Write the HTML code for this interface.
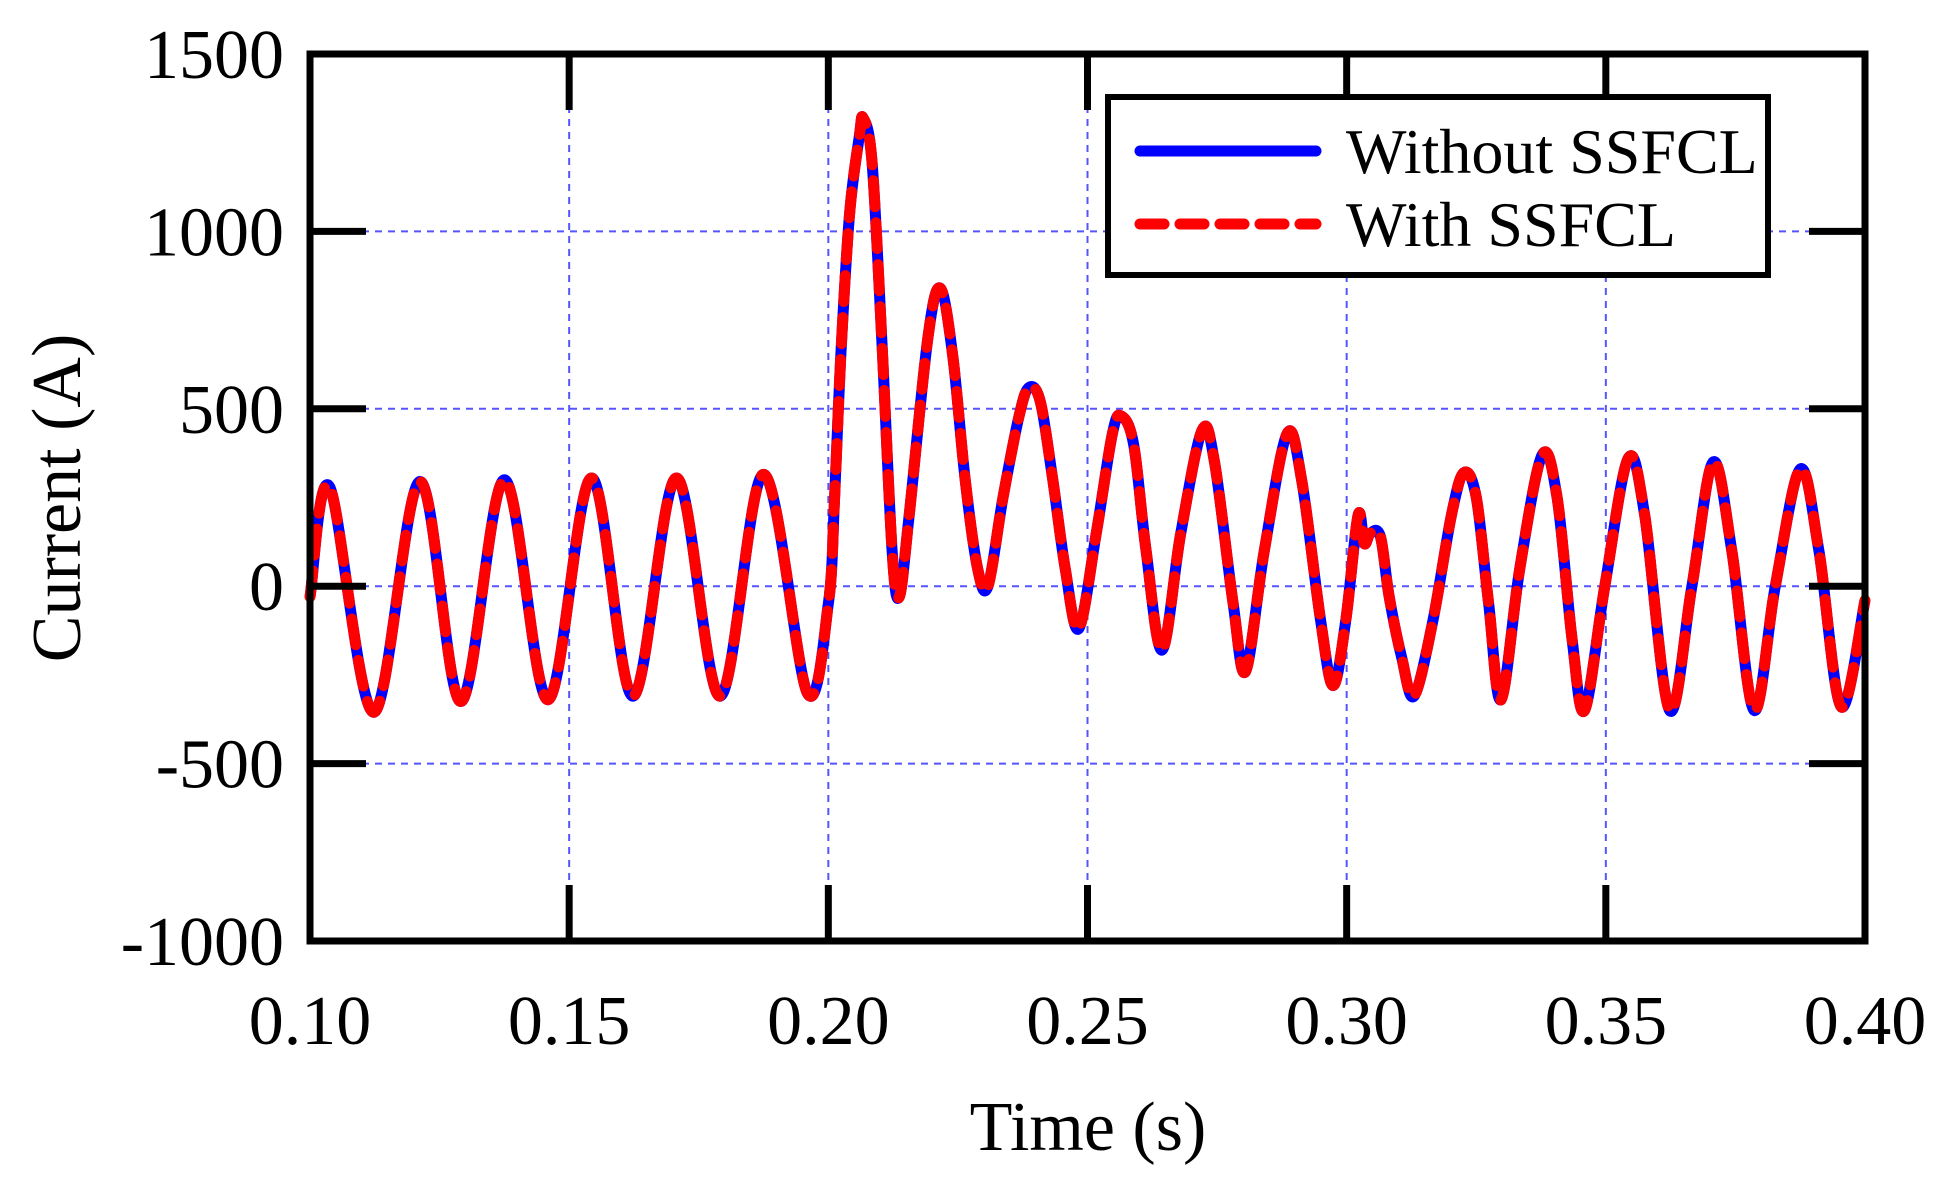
<!DOCTYPE html>
<html><head><meta charset="utf-8"><style>
html,body{margin:0;padding:0;background:#fff;}
svg{display:block;font-family:"Liberation Serif",serif;}
</style></head><body>
<svg id="chart" width="1954" height="1188" viewBox="0 0 1954 1188" xmlns="http://www.w3.org/2000/svg">
<rect x="0" y="0" width="1954" height="1188" fill="#fff"/>
<g id="grid"></g>
<g id="series"></g>
<g id="axes"></g>
<g id="legend">
 <rect x="1108" y="97" width="660" height="178" fill="#fff" stroke="#000" stroke-width="6"/>
 <line x1="1140" y1="151" x2="1316" y2="151" stroke="#0000ff" stroke-width="11" stroke-linecap="round"/>
 <text x="1346" y="173" font-size="64">Without SSFCL</text>
 <line x1="1140" y1="224" x2="1316" y2="224" stroke="#ff0000" stroke-width="11" stroke-linecap="round" stroke-dasharray="24 16"/>
 <text x="1346" y="246" font-size="64">With SSFCL</text>
</g>
<text x="1088" y="1150" font-size="70" text-anchor="middle">Time (s)</text>
<text x="0" y="0" font-size="70" text-anchor="middle" transform="translate(80,498) rotate(-90)">Current (A)</text>
</svg>
<script>
const xTicks = [0.10, 0.15, 0.20, 0.25, 0.30, 0.35, 0.40];
const xTickLabels = ["0.10", "0.15", "0.20", "0.25", "0.30", "0.35", "0.40"];
const yTicks = [-1000, -500, 0, 500, 1000, 1500];
const yTickLabels = ["-1000", "-500", "0", "500", "1000", "1500"];
const times = [0.1000,0.1038,0.1123,0.1212,0.1291,0.1375,0.1459,0.1543,0.1623,0.1707,0.1791,0.1875,0.1959,0.2000,0.2012,0.2024,0.2041,0.2060,0.2067,0.2084,0.2103,0.2123,0.2137,0.2156,0.2192,0.2216,0.2240,0.2264,0.2288,0.2308,0.2337,0.2368,0.2387,0.2409,0.2433,0.2457,0.2483,0.2517,0.2548,0.2565,0.2589,0.2613,0.2644,0.2680,0.2721,0.2745,0.2781,0.2805,0.2841,0.2885,0.2913,0.2950,0.2974,0.2998,0.3022,0.3034,0.3046,0.3065,0.3082,0.3106,0.3130,0.3166,0.3202,0.3226,0.3250,0.3274,0.3298,0.3334,0.3377,0.3406,0.3435,0.3459,0.3498,0.3543,0.3575,0.3623,0.3666,0.3707,0.3743,0.3786,0.3827,0.3875,0.3911,0.3954,0.4000];
const withoutSSFCL = [-30,280,-355,295,-325,300,-320,305,-310,305,-310,315,-300,-50,250,650,1050,1270,1320,1200,700,100,-30,200,700,840,650,300,50,0,250,480,560,520,300,50,-120,150,430,480,400,100,-180,150,440,350,-50,-240,100,430,300,-100,-280,-100,200,120,150,140,-30,-200,-310,-100,200,320,250,-50,-320,50,370,250,-150,-350,0,360,200,-350,0,350,100,-350,0,330,100,-340,-40];
const withSSFCL = [-30,280,-355,295,-325,300,-320,305,-310,305,-310,315,-300,-50,250,650,1050,1270,1320,1200,700,100,-30,200,700,840,650,300,50,0,250,480,560,520,300,50,-120,150,430,480,400,100,-180,150,440,350,-50,-240,100,430,300,-100,-280,-100,200,120,150,140,-30,-200,-310,-100,200,320,250,-50,-320,50,370,250,-150,-350,0,360,200,-350,0,350,100,-350,0,330,100,-340,-40];

const L=310,R=1865,T=54,B=941;
const xs=t=>L+(t-0.10)/(0.30)*(R-L);
const ys=v=>B-(v+1000)/2500*(B-T);
const NS="http://www.w3.org/2000/svg";
function mk(tag,attrs,parent){const e=document.createElementNS(NS,tag);for(const k in attrs)e.setAttribute(k,attrs[k]);parent.appendChild(e);return e;}
const grid=document.getElementById('grid'),axes=document.getElementById('axes'),series=document.getElementById('series');

xTicks.forEach((t,i)=>{
  const x=xs(t);
  if(i>0&&i<xTicks.length-1){
    const g=mk('line',{x1:x,y1:T,x2:x,y2:B,stroke:'#5555ff','stroke-width':2,'stroke-dasharray':'7 6'},grid);
    
    
    const a=mk('line',{x1:x,y1:B,x2:x,y2:B-56,stroke:'#000','stroke-width':7},axes);
    
    
    const b=mk('line',{x1:x,y1:T,x2:x,y2:T+56,stroke:'#000','stroke-width':7},axes);
    
    
  }
  const tx=mk('text',{x:x,y:1044,'font-size':70,'text-anchor':'middle'},axes);
  tx.textContent=xTickLabels[i];
  
  
});
yTicks.forEach((v,i)=>{
  const y=ys(v);
  if(i>0&&i<yTicks.length-1){
    const g=mk('line',{x1:L,y1:y,x2:R,y2:y,stroke:'#5555ff','stroke-width':2,'stroke-dasharray':'7 6'},grid);
    
    
    const a=mk('line',{x1:L,y1:y,x2:L+56,y2:y,stroke:'#000','stroke-width':7},axes);
    
    
    const b=mk('line',{x1:R,y1:y,x2:R-56,y2:y,stroke:'#000','stroke-width':7},axes);
    
    
  }
  const tx=mk('text',{x:284,y:y+24,'font-size':70,'text-anchor':'end'},axes);
  tx.textContent=yTickLabels[i];
  
  
});
const frame=mk('rect',{x:L,y:T,width:R-L,height:B-T,fill:'none',stroke:'#000','stroke-width':7},axes);



function pathFrom(vals){
  const p=times.map((t,i)=>[xs(t),ys(vals[i])]);
  let d='M'+p[0][0].toFixed(1)+','+p[0][1].toFixed(1);
  for(let i=0;i<p.length-1;i++){
    const p0=p[Math.max(0,i-1)],p1=p[i],p2=p[i+1],p3=p[Math.min(p.length-1,i+2)];
    const c1=[p1[0]+(p2[0]-p0[0])/6,p1[1]+(p2[1]-p0[1])/6];
    const c2=[p2[0]-(p3[0]-p1[0])/6,p2[1]-(p3[1]-p1[1])/6];
    d+=' C'+c1[0].toFixed(1)+','+c1[1].toFixed(1)+' '+c2[0].toFixed(1)+','+c2[1].toFixed(1)+' '+p2[0].toFixed(1)+','+p2[1].toFixed(1);
  }
  return d;
}
const blue=mk('path',{d:pathFrom(withoutSSFCL),fill:'none',stroke:'#0000ff','stroke-width':11,'stroke-linejoin':'round'},series);


const red=mk('path',{d:pathFrom(withSSFCL),fill:'none',stroke:'#ff0000','stroke-width':11,'stroke-linecap':'round','stroke-linejoin':'round','stroke-dasharray':'26 16'},series);


</script>
</body></html>
